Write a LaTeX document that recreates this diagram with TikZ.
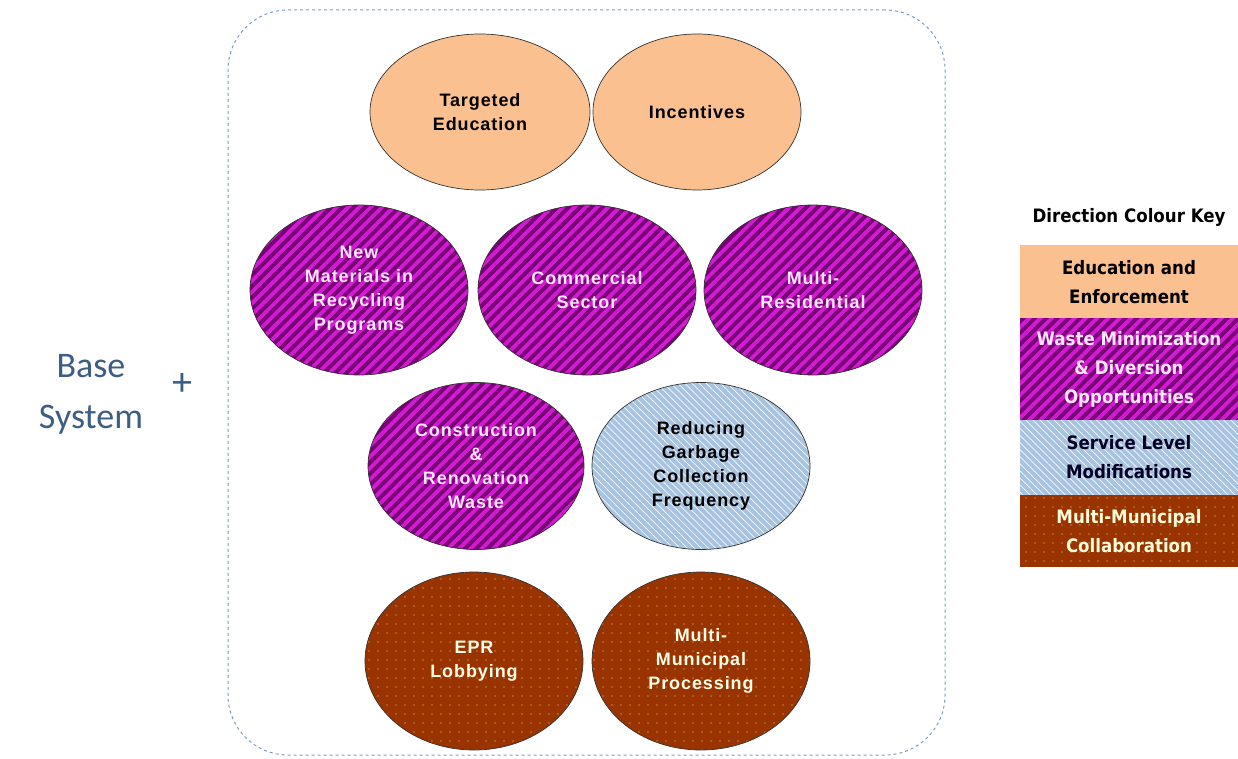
\documentclass[tikz,border=0pt]{standalone}
\usepackage{fontspec}
\setmainfont{Liberation Sans}
\newfontfamily\ellfont[LetterSpace=5]{Liberation Sans Bold}
\newfontfamily\basefont{Carlito}
\newfontfamily\keyfont{DejaVu Sans Condensed}
\usetikzlibrary{shapes.geometric,patterns.meta}
\definecolor{peach}{HTML}{FAC08F}
\definecolor{purpdark}{HTML}{7A0078}
\definecolor{purplite}{HTML}{D21CD2}
\definecolor{svcblue}{HTML}{A7C3E0}
\definecolor{brownc}{HTML}{993300}
\definecolor{dotc}{HTML}{F2D48A}
\definecolor{basetxt}{HTML}{3C5E84}
\definecolor{boxline}{HTML}{7E9CBE}
\definecolor{pinktxt}{HTML}{FBE6FB}
\tikzset{
  stripes/.style={preaction={fill=purpdark},
    pattern={Lines[angle=45,distance=8pt,line width=3.8pt]}, pattern color=purplite},
  hatch/.style={preaction={fill=svcblue},
    pattern={Lines[angle=-45,distance=5pt,line width=0.7pt]}, pattern color=white!92!svcblue},
  dotted bg/.style={preaction={fill=brownc},
    pattern={Dots[distance=9pt,radius=0.7pt]}, pattern color=dotc},
  ell/.style={ellipse, draw=black!80, line width=0.7pt, align=center,
    font=\ellfont\fontsize{18}{24}\selectfont, inner sep=0pt},
  edu/.style={ell, fill=peach, text=black},
  waste/.style={ell, stripes, text=pinktxt},
  svc/.style={ell, hatch, text=black},
  muni/.style={ell, dotted bg, text=white!90!yellow},
  keyband/.style={minimum width=218pt, inner sep=0pt, align=center,
    font=\keyfont\fontsize{18.5}{29}\selectfont\bfseries},
}
\begin{document}
\begin{tikzpicture}[x=1pt,y=-1pt]
\useasboundingbox (0,0) rectangle (1238,759);
% dashed container
\node[draw=boxline, dashed, line width=1pt, rounded corners=60pt, minimum width=717pt, minimum height=745pt] (frame) at (586.5,382.5) {};
% base system
\node[text=basetxt, font=\basefont\fontsize{36}{51}\selectfont, align=center] (base) at (91,394) {Base\\System};
\node[text=basetxt, font=\basefont\fontsize{40}{40}\selectfont] (plus) at (182,385) {+};
% ellipses
\node[edu, minimum width=220pt, minimum height=156pt] (te) at (480,112) {Targeted\\Education};
\node[edu, minimum width=208pt, minimum height=156pt] (inc) at (697,112) {Incentives};
\node[waste, minimum width=218pt, minimum height=170pt] (nm) at (359,290) {New\\Materials in\\Recycling\\Programs};
\node[waste, minimum width=218pt, minimum height=170pt] (cs) at (587,290) {Commercial\\Sector};
\node[waste, minimum width=218pt, minimum height=170pt] (mr) at (813,290) {Multi-\\Residential};
\node[waste, minimum width=216pt, minimum height=167pt] (cr) at (476,466) {Construction\\\&\\Renovation\\Waste};
\node[svc, minimum width=218pt, minimum height=167pt] (rg) at (701,466) {Reducing\\Garbage\\Collection\\Frequency};
\node[muni, minimum width=218pt, minimum height=178pt] (epr) at (474,661) {EPR\\Lobbying};
\node[muni, minimum width=218pt, minimum height=178pt] (mmp) at (701,661) {Multi-\\Municipal\\Processing};
% key
\node[keyband, minimum height=30pt, text=black] (kt) at (1129,217) {Direction Colour Key};
\node[keyband, minimum height=74pt, fill=peach, text=black] (k1) at (1129,282) {Education and\\Enforcement};
\node[keyband, minimum height=102pt, stripes, text=pinktxt] (k2) at (1129,369) {Waste Minimization\\\& Diversion\\Opportunities};
\node[keyband, minimum height=75pt, hatch, text=black!85!blue] (k3) at (1129,457.5) {Service Level\\Modifications};
\node[keyband, minimum height=72pt, dotted bg, text=white!85!yellow] (k4) at (1129,531) {Multi-Municipal\\Collaboration};
\end{tikzpicture}
\end{document}
